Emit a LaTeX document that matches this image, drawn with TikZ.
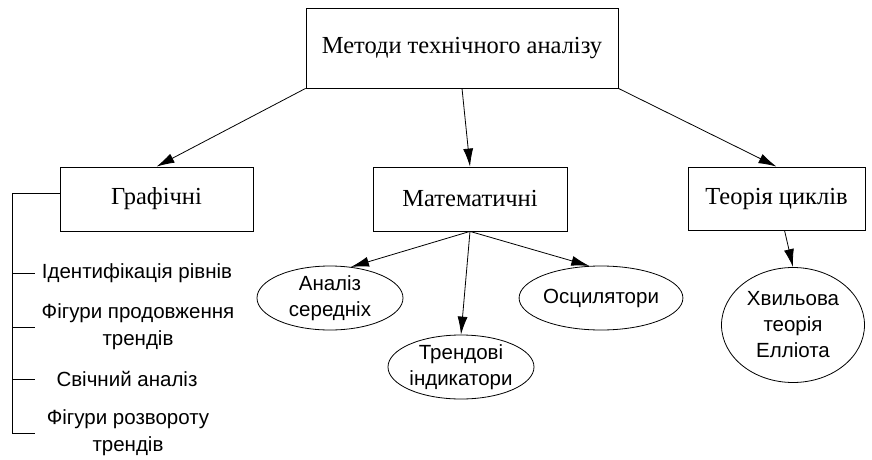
\documentclass[tikz,border=0pt]{standalone}
\usepackage{fontspec}
\setmainfont{Liberation Serif}
\setsansfont{Liberation Sans}
\usetikzlibrary{shapes.geometric}
\usetikzlibrary{arrows.meta}

\begin{document}
\begin{tikzpicture}[x=1pt, y=-1pt, line width=0.8pt,
	box/.style={draw, rectangle, inner sep=0pt, font=\fontsize{24.5}{28}\selectfont},
	oval/.style={draw, ellipse, inner sep=0pt, align=center, font=\sffamily\fontsize{20.5}{26}\selectfont},
	item/.style={align=center, inner sep=0pt, font=\sffamily\fontsize{20.5}{27}\selectfont},
	link/.style={-{Latex[length=18pt, width=10pt]}}]
	\useasboundingbox (0,0) rectangle (872,460);
	% boxes
	\node[box, minimum width=312pt, minimum height=80pt](methods) at (462,48){Методи технічного аналізу};
	\node[box, minimum width=193pt, minimum height=64pt](graph) at (156.5,199){Графічні};
	\node[box, minimum width=194pt, minimum height=64pt](math) at (470,199){Математичні};
	\node[box, minimum width=177pt, minimum height=63pt](cycles) at (776.5,198.5){Теорія циклів};
	% ovals
	\node[oval, minimum width=146pt, minimum height=64pt](avg) at (330,298){Аналіз\\середніх};
	\node[oval, minimum width=146pt, minimum height=64pt](trend) at (461,367){Трендові\\індикатори};
	\node[oval, minimum width=146pt, minimum height=64pt](osc) at (601,298){Осцилятори};
	\node[oval, minimum width=143pt, minimum height=115pt](wave) at (793,325){Хвильова\\теорія\\Елліота};
	% list
	\node[item](i1) at (137,273){Ідентифікація рівнів};
	\node[item](i2) at (138,327){Фігури продовження\\трендів};
	\node[item](i3) at (127,379){Свічний аналіз};
	\node[item](i4) at (128,433){Фігури розвороту\\трендів};
	\coordinate (bus) at (12,433);
	% connectors
	\draw[link] (methods.south west) -- (graph.north);
	\draw[link] (methods.south) -- (math.north);
	\draw[link] (methods.south east) -- (cycles.north);
	\draw[link] (math.south) -- (avg.56);
	\draw[link] (math.south) -- (trend.north);
	\draw[link] (math.south) -- (osc.110);
	\draw[link] ([xshift=8pt]cycles.south) -- (wave.north);
	\draw ([yshift=6pt]graph.west) -| (bus);
	\foreach \i in {i1,i2,i3,i4}
		\draw (bus |- \i) -- ++(23,0);
\end{tikzpicture}
\end{document}
